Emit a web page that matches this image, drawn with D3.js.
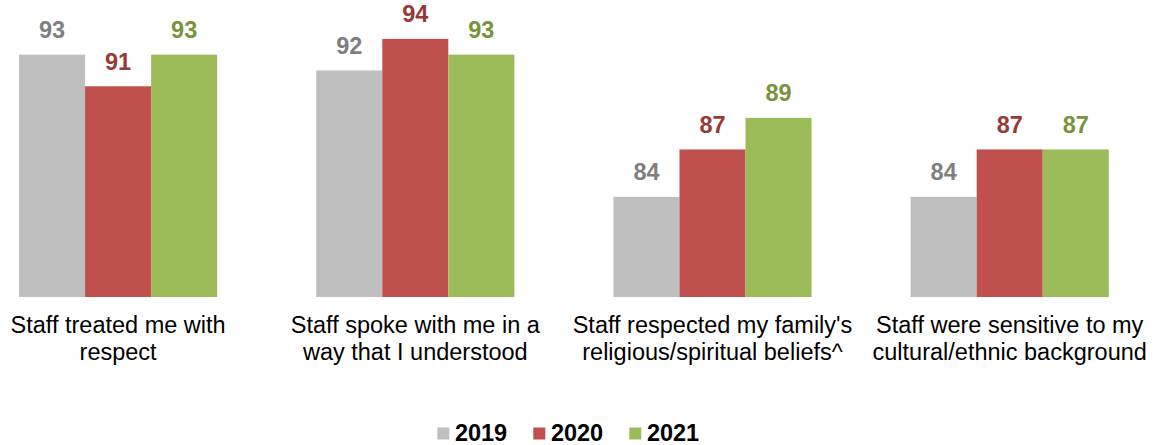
<!DOCTYPE html>
<html>
<head>
<meta charset="utf-8">
<script src="https://cdn.jsdelivr.net/npm/d3@7"></script>
<style>
  html, body { margin: 0; padding: 0; background: #ffffff; }
  svg { display: block; font-family: "Liberation Sans", Arial, sans-serif; }
</style>
</head>
<body>
<svg id="chart" width="1156" height="445"></svg>
<script>
// Survey items (each label split into two lines)
const categories = [
  ["Staff treated me with", "respect"],
  ["Staff spoke with me in a", "way that I understood"],
  ["Staff respected my family's", "religious/spiritual beliefs^"],
  ["Staff were sensitive to my", "cultural/ethnic background"]
];
const years = ["2019", "2020", "2021"];
const values2019 = [93, 92, 84, 84];
const values2020 = [91, 94, 87, 87];
const values2021 = [93, 93, 89, 87];

const barColors = ["#BFBFBF", "#C0504D", "#9BBB59"];
const labelColors = ["#7F7F7F", "#973937", "#77933C"];

const seriesValues = [values2019, values2020, values2021];
const svg = d3.select("#chart");

const baseline = 297;
const x0 = d3.scaleBand()
  .domain(d3.range(categories.length))
  .range([-30.5, 1158.3])
  .paddingInner(1 / 3)
  .paddingOuter(1 / 6);

const x1 = d3.scaleBand()
  .domain(d3.range(years.length))
  .range([0, x0.bandwidth()]);

const y = d3.scaleLinear()
  .domain([77.66, 96.46])
  .range([baseline, 0]);

// Bars and value labels
years.forEach((yr, si) => {
  const g = svg.append("g");
  const vals = seriesValues[si];
  g.selectAll("rect")
    .data(vals)
    .join("rect")
    .attr("x", (d, i) => x0(i) + x1(si))
    .attr("y", d => y(d))
    .attr("width", x1.bandwidth())
    .attr("height", d => baseline - y(d))
    .attr("fill", barColors[si]);

  g.selectAll("text")
    .data(vals)
    .join("text")
    .attr("x", (d, i) => x0(i) + x1(si) + x1.bandwidth() / 2)
    .attr("y", d => y(d) - 16.5)
    .attr("text-anchor", "middle")
    .attr("font-size", "23.5px")
    .attr("font-weight", "bold")
    .attr("fill", labelColors[si])
    .text(d => d);
});

// Category labels
const cat = svg.append("g")
  .selectAll("text")
  .data(categories)
  .join("text")
  .attr("text-anchor", "middle")
  .attr("font-size", "23.5px")
  .attr("fill", "#000000")
  .attr("transform", (d, i) => `translate(${x0(i) + x0.bandwidth() / 2},0)`);

cat.selectAll("tspan")
  .data(d => d)
  .join("tspan")
  .attr("x", 0)
  .attr("y", (d, j) => 332.7 + j * 27)
  .text(d => d);

// Legend
const legend = svg.append("g")
  .selectAll("g")
  .data(years)
  .join("g")
  .attr("transform", (d, i) => `translate(${437.3 + i * 96},0)`);

legend.append("rect")
  .attr("x", 0)
  .attr("y", 427.5)
  .attr("width", 12)
  .attr("height", 12)
  .attr("fill", (d, i) => barColors[i]);

legend.append("text")
  .attr("x", 17.6)
  .attr("y", 441)
  .attr("font-size", "23.5px")
  .attr("font-weight", "bold")
  .attr("fill", "#000000")
  .text(d => d);
</script>
</body>
</html>
